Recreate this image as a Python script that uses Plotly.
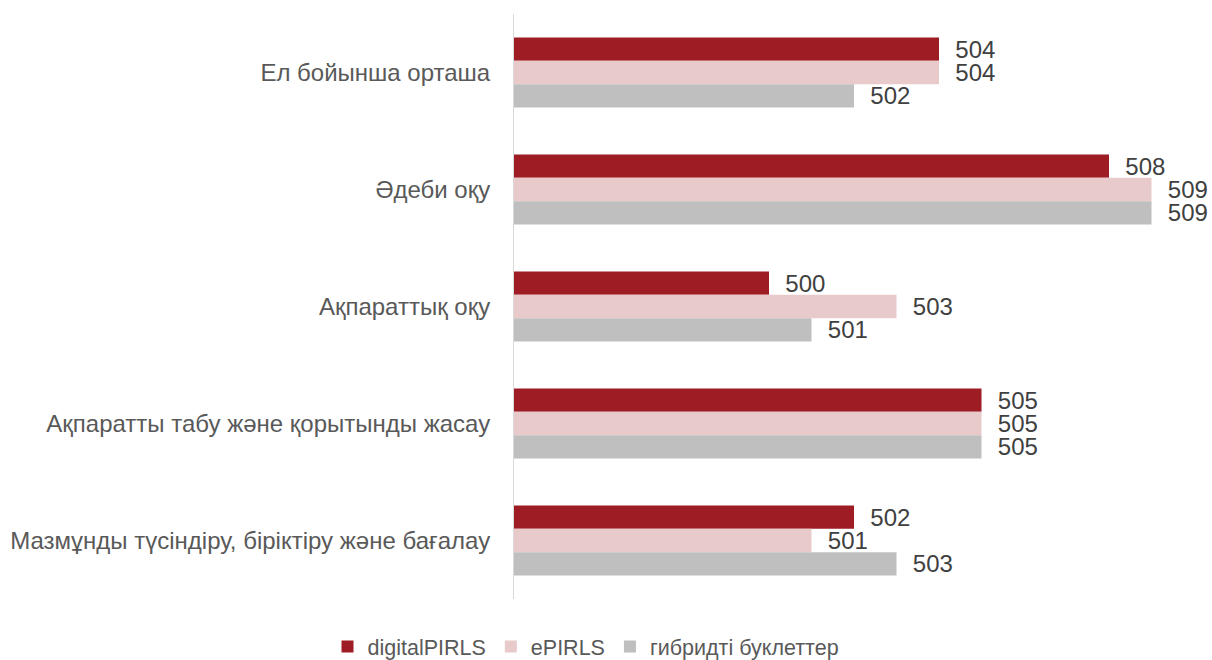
import plotly.graph_objects as go

categories = [
    "Ел бойынша орташа",
    "Әдеби оқу",
    "Ақпараттық оқу",
    "Ақпаратты табу және қорытынды жасау",
    "Мазмұнды түсіндіру, біріктіру және бағалау",
]
digital_pirls = [504, 508, 500, 505, 502]
epirls = [504, 509, 503, 505, 501]
hybrid = [502, 509, 501, 505, 503]

series = [
    ("digitalPIRLS", digital_pirls, "#9E1C24"),
    ("ePIRLS", epirls, "#E8CACB"),
    ("гибридті буклеттер", hybrid, "#BFBFBF"),
]

AXIS_MIN = 494

fig = go.Figure()
for name, vals, color in series:
    fig.add_trace(go.Bar(
        name=name, y=categories, x=[v - AXIS_MIN for v in vals], orientation="h",
        base=AXIS_MIN,
        marker=dict(color=color, line=dict(width=0)),
        text=[f"\u00a0\u00a0{v}" for v in vals],
        textposition="outside",
        constraintext="none",
        textfont=dict(family="Liberation Sans, Arial, sans-serif", size=24, color="#404040"),
        cliponaxis=False,
        hoverinfo="skip",
    ))

fig.update_layout(
    width=1212, height=660,
    barmode="group", bargap=0.4, bargroupgap=0,
    plot_bgcolor="white", paper_bgcolor="white",
    margin=dict(l=514, r=18, t=14, b=61, autoexpand=False),
    font=dict(family="Liberation Sans, Arial, sans-serif", size=24, color="#595959"),
    xaxis=dict(range=[AXIS_MIN, 510], visible=False, showgrid=False, zeroline=False),
    yaxis=dict(autorange="reversed", showline=True, linecolor="#D9D9D9", linewidth=1,
               ticks="", showgrid=False, ticklabelstandoff=18, automargin=False,
               tickfont=dict(size=24, color="#595959")),
    legend=dict(orientation="h", xref="container", x=0.4835, xanchor="center",
                y=-0.046, yanchor="top",
                font=dict(size=21.5, color="#595959"), itemwidth=30,
                tracegroupgap=0),
    showlegend=True,
)

fig.write_html("out.html", config={"displayModeBar": False},
               post_script="document.body.style.margin='0';")
